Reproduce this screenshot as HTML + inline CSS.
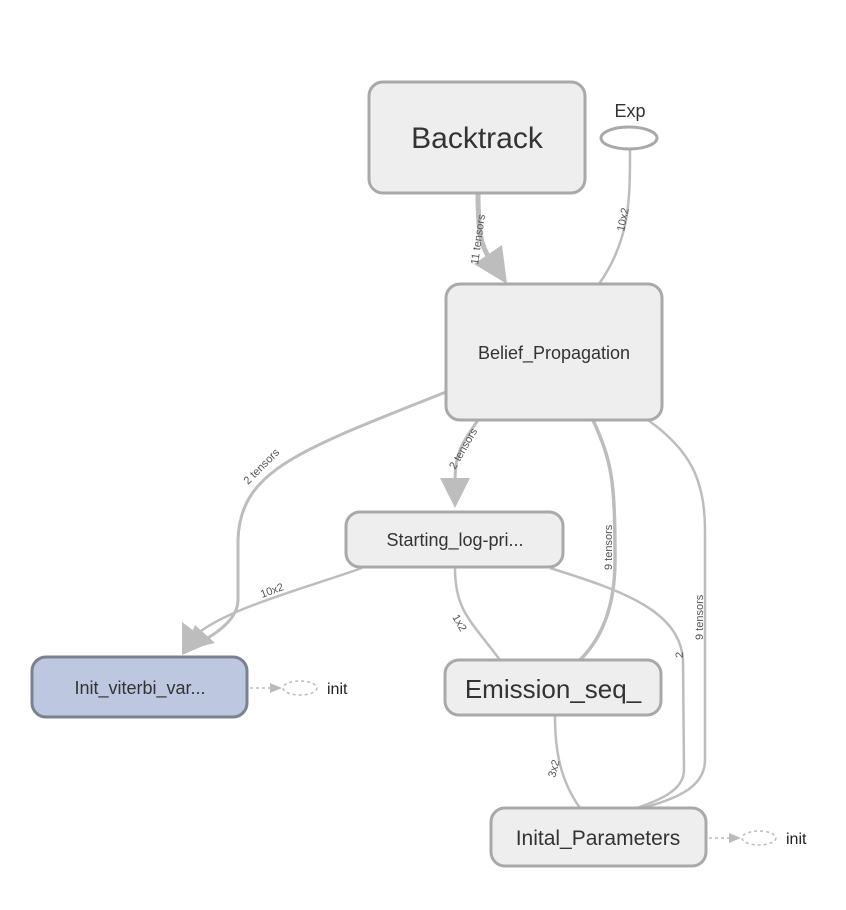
<!DOCTYPE html>
<html><head><meta charset="utf-8"><style>html,body{margin:0;padding:0;background:#fff}svg{display:block}text{font-family:"Liberation Sans",sans-serif}</style></head><body>
<svg width="846" height="910" viewBox="0 0 846 910" xmlns="http://www.w3.org/2000/svg">
<g fill="none" stroke="#bdbdbd" stroke-width="2.5">
<path d="M478,193 C478,240 482,250 497,268" stroke-width="5"/>
<path d="M630,149 C630,200 630,240 599,284"/>
<path d="M446,392 C300,450 240,470 238,540 L238,600 C238,620 215,635 195,645" stroke-width="3"/>
<path d="M478,420 C465,440 455,450 455,480" stroke-width="3"/>
<path d="M362,568 C300,590 220,610 190,640"/>
<path d="M455,568 C455,610 470,620 500,660"/>
<path d="M593,420 C612,462 615,480 615,560 C615,610 600,640 580,660" stroke-width="3.5"/>
<path d="M550,568 C620,590 680,610 683,660 L684,770 C684,790 660,800 637,808"/>
<path d="M648,420 C690,450 705,480 705,530 L705,760 C705,790 670,800 643,808"/>
<path d="M555,716 C555,750 560,780 580,808"/>
</g>
<g fill="#bdbdbd">
<polygon points="507,284 474,264 502,245"/>
<polygon points="455,508 440,478 470,478"/>
<polygon points="182,655 182,622 210,643"/>
<polygon points="185,650 195,625 215,643"/>
</g>
<g font-size="11" fill="#555">
<text transform="translate(478,265) rotate(-82)">11 tensors</text>
<text transform="translate(624,232) rotate(-78)">10x2</text>
<text transform="translate(248,485) rotate(-45)">2 tensors</text>
<text transform="translate(455,470) rotate(-60)">2 tensors</text>
<text transform="translate(262,598) rotate(-20)">10x2</text>
<text transform="translate(452,617) rotate(60)">1x2</text>
<text transform="translate(612,570) rotate(-90)">9 tensors</text>
<text transform="translate(703,640) rotate(-90)">9 tensors</text>
<text transform="translate(683,658) rotate(-90)">2</text>
<text transform="translate(555,778) rotate(-75)">3x2</text>
</g>
<g stroke="#a9a9a9" stroke-width="3" fill="#eeeeee">
<rect x="369" y="82" width="216" height="111" rx="14"/>
<rect x="446" y="284" width="216" height="136" rx="14"/>
<rect x="346" y="512" width="217" height="55" rx="14"/>
<rect x="445" y="660" width="216" height="55" rx="14"/>
<rect x="491" y="808" width="215" height="58" rx="14"/>
<rect x="32" y="657" width="215" height="60" rx="14" fill="#bdc7df" stroke="#7b8191"/>
<ellipse cx="629" cy="138" rx="28" ry="11" fill="#fff"/>
</g>
<g fill="none" stroke="#bbb" stroke-width="1.5" stroke-dasharray="3,3">
<ellipse cx="300" cy="688" rx="17" ry="7"/>
<ellipse cx="759" cy="838" rx="17" ry="7"/>
<path d="M250,688 L272,688"/>
<path d="M709,838 L731,838"/>
</g>
<polygon points="282,688 270,683 270,693" fill="#bbb"/>
<polygon points="741,838 729,833 729,843" fill="#bbb"/>
<g fill="#333" text-anchor="middle">
<text x="477" y="148" font-size="30">Backtrack</text>
<text x="630" y="117" font-size="18">Exp</text>
<text x="554" y="359" font-size="18">Belief_Propagation</text>
<text x="455" y="546" font-size="18">Starting_log-pri...</text>
<text x="140" y="694" font-size="18">Init_viterbi_var...</text>
<text x="553" y="698" font-size="26">Emission_seq_</text>
<text x="598" y="845" font-size="21">Inital_Parameters</text>
</g>
<g fill="#222" font-size="16">
<text x="327" y="694">init</text>
<text x="786" y="844">init</text>
</g>
</svg>
</body></html>
